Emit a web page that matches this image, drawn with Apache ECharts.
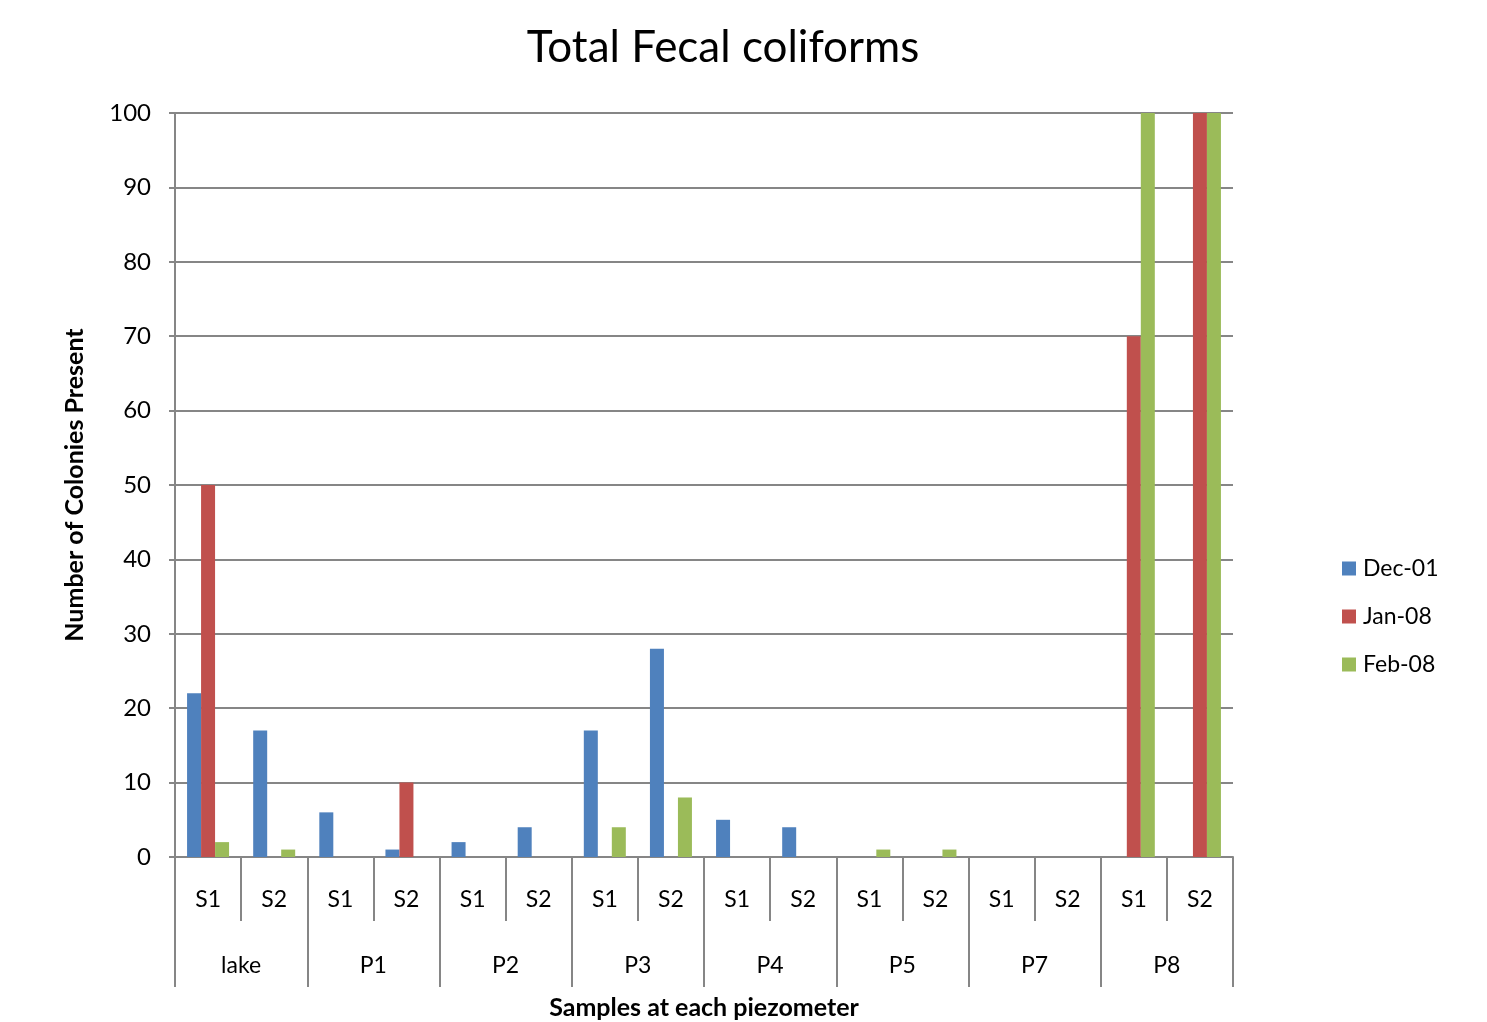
<!DOCTYPE html>
<html>
<head>
<meta charset="utf-8">
<script src="https://cdn.jsdelivr.net/npm/echarts@6/dist/echarts.min.js"></script>
<style>
  html, body { margin: 0; padding: 0; background: #fff; }
  #chart { width: 1487px; height: 1022px; }
</style>
</head>
<body>
<div id="chart"></div>
<script>
// Sample positions (inner level) and piezometers (outer level)
const samples = ['S1','S2','S1','S2','S1','S2','S1','S2','S1','S2','S1','S2','S1','S2','S1','S2'];
const piezometers = ['lake','P1','P2','P3','P4','P5','P7','P8'];

// Colony counts per sampling date
const dec01 = [22, 17, 6, 1, 2, 4, 17, 28, 5, 4, 0, 0, 0, 0, 0, 0];
const jan08 = [50, 0, 0, 10, 0, 0, 0, 0, 0, 0, 0, 0, 0, 0, 70, 100];
const feb08 = [2, 1, 0, 0, 0, 0, 4, 8, 0, 0, 1, 1, 0, 0, 100, 100];

const yTicks = { min: 0, max: 100, interval: 10 };

const FONT = 'Lato, "Open Sans", sans-serif';
const GRID_GRAY = '#868686';

const chart = echarts.init(document.getElementById('chart'));

function barSeries(name, data, color) {
  return {
    name: name,
    type: 'bar',
    data: data,
    barWidth: 14,
    barGap: '0%',
    itemStyle: { color: color },
    emphasis: { disabled: true }
  };
}

chart.setOption({
  animation: false,
  backgroundColor: '#fff',
  title: {
    text: 'Total Fecal coliforms',
    left: 718,
    textAlign: 'center',
    top: 21,
    textStyle: { fontFamily: FONT, fontSize: 44, fontWeight: 'normal', color: '#000' }
  },
  legend: {
    orient: 'vertical',
    left: 1342,
    top: 557,
    padding: 0,
    itemWidth: 14,
    itemHeight: 14,
    itemGap: 25,
    icon: 'rect',
    textStyle: { fontFamily: FONT, fontSize: 23, color: '#000', padding: [0, 0, 0, 2] },
    data: ['Dec-01', 'Jan-08', 'Feb-08']
  },
  grid: { left: 175, right: 254, top: 113, bottom: 165, containLabel: false, outerBoundsMode: 'none' },
  xAxis: [
    {
      type: 'category',
      data: samples,
      position: 'bottom',
      axisLine: { show: true, lineStyle: { color: GRID_GRAY, width: 2 } },
      axisTick: { show: true, interval: 0, length: 64, lineStyle: { color: GRID_GRAY, width: 2 } },
      axisLabel: { interval: 0, margin: 31, fontFamily: FONT, fontSize: 23, color: '#000' },
      splitLine: { show: false }
    },
    {
      type: 'category',
      data: piezometers,
      position: 'bottom',
      axisLine: { show: false },
      axisTick: { show: true, interval: 0, length: 130, lineStyle: { color: GRID_GRAY, width: 2 } },
      axisLabel: { interval: 0, margin: 97, fontFamily: FONT, fontSize: 23, color: '#000' },
      name: 'Samples at each piezometer',
      nameLocation: 'middle',
      nameGap: 138,
      nameTextStyle: { fontFamily: FONT, fontSize: 25, fontWeight: 'bold', color: '#000' },
      splitLine: { show: false }
    }
  ],
  yAxis: {
    type: 'value',
    min: yTicks.min,
    max: yTicks.max,
    interval: yTicks.interval,
    name: 'Number of Colonies Present',
    nameLocation: 'middle',
    nameGap: 88,
    nameTextStyle: { fontFamily: FONT, fontSize: 25, fontWeight: 'bold', color: '#000' },
    axisLine: { show: true, lineStyle: { color: GRID_GRAY, width: 2 } },
    axisTick: { show: true, length: 6, lineStyle: { color: GRID_GRAY, width: 2 } },
    axisLabel: { margin: 24, fontFamily: FONT, fontSize: 24, color: '#000' },
    splitLine: { show: true, lineStyle: { color: GRID_GRAY, width: 2 } }
  },
  series: [
    barSeries('Dec-01', dec01, '#4F81BD'),
    barSeries('Jan-08', jan08, '#C0504D'),
    barSeries('Feb-08', feb08, '#9BBB59')
  ]
});
</script>
</body>
</html>
